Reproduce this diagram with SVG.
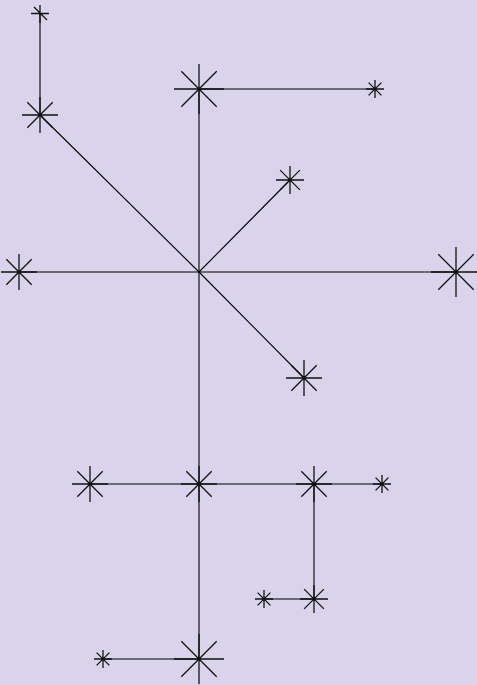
<svg xmlns="http://www.w3.org/2000/svg" xmlns:xlink="http://www.w3.org/1999/xlink" width="477" height="685" viewBox="0 0 477 685">
<style>
.edge{stroke:#000;stroke-width:1.1;fill:none}
.star{stroke:#111;stroke-width:1.3;fill:none}
</style>
<defs>
<path id="s9" class="star" d="M-9 0H9M0-9V9M-6.4-6.4L6.4 6.4M-6.4 6.4L6.4-6.4"/>
<path id="s14" class="star" d="M-14 0H14M0-14V14M-9.9-9.9L9.9 9.9M-9.9 9.9L9.9-9.9"/>
<path id="s18" class="star" d="M-18 0H18M0-18V18M-12.7-12.7L12.7 12.7M-12.7 12.7L12.7-12.7"/>
<path id="s25" class="star" d="M-25 0H25M0-25V25M-17.7-17.7L17.7 17.7M-17.7 17.7L17.7-17.7"/>
</defs>
<rect width="477" height="685" fill="#d9d4eb"/>
<g id="connectors">
<line class="edge" x1="40" y1="14" x2="40" y2="115"/>
<line class="edge" x1="40" y1="115" x2="199" y2="272"/>
<line class="edge" x1="199" y1="89" x2="375" y2="89"/>
<line class="edge" x1="199" y1="89" x2="199" y2="272"/>
<line class="edge" x1="199" y1="272" x2="290" y2="180"/>
<line class="edge" x1="199" y1="272" x2="19" y2="272"/>
<line class="edge" x1="199" y1="272" x2="456" y2="272"/>
<line class="edge" x1="199" y1="272" x2="304" y2="378"/>
<line class="edge" x1="199" y1="272" x2="199" y2="484"/>
<line class="edge" x1="199" y1="484" x2="90" y2="484"/>
<line class="edge" x1="199" y1="484" x2="314" y2="484"/>
<line class="edge" x1="314" y1="484" x2="382" y2="484"/>
<line class="edge" x1="314" y1="484" x2="314" y2="599"/>
<line class="edge" x1="314" y1="599" x2="264" y2="599"/>
<line class="edge" x1="199" y1="484" x2="199" y2="659"/>
<line class="edge" x1="199" y1="659" x2="103" y2="659"/>
</g>
<g id="n1"><path class="star" d="M31 13.5H49M34 7L47 20M40 5V23"/></g>
<g id="n2"><use xlink:href="#s18" x="40" y="115"/></g>
<g id="n3"><use xlink:href="#s25" x="199" y="89"/></g>
<g id="n4"><use xlink:href="#s9" x="375" y="89"/></g>
<g id="n5"><use xlink:href="#s14" x="290" y="180"/></g>
<g id="n6"><use xlink:href="#s18" x="19" y="272"/></g>
<g id="n7"><use xlink:href="#s25" x="456" y="272"/></g>
<g id="n8"><use xlink:href="#s18" x="304" y="378"/></g>
<g id="n9"><use xlink:href="#s18" x="90" y="484"/></g>
<g id="n10"><use xlink:href="#s18" x="199" y="484"/></g>
<g id="n11"><use xlink:href="#s18" x="314" y="484"/></g>
<g id="n12"><use xlink:href="#s9" x="382" y="484"/></g>
<g id="n13"><use xlink:href="#s14" x="314" y="599"/></g>
<g id="n14"><use xlink:href="#s9" x="264" y="599"/></g>
<g id="n15"><use xlink:href="#s25" x="199" y="659"/></g>
<g id="n16"><use xlink:href="#s9" x="103" y="659"/></g>
</svg>
